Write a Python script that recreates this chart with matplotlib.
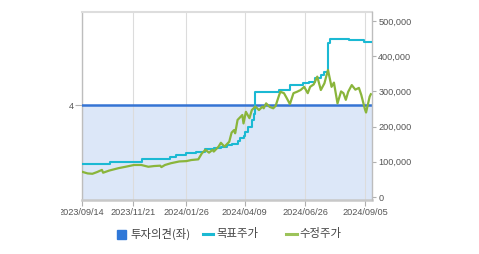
import matplotlib
matplotlib.use("Agg")
import matplotlib.pyplot as plt
import numpy as np
import pandas as pd
from matplotlib.patches import Rectangle
from matplotlib.lines import Line2D
from matplotlib.transforms import Bbox

# ---------------- data ----------------
holidays = ["2023-09-28", "2023-09-29", "2023-10-02", "2023-10-03", "2023-10-09",
            "2023-12-25", "2023-12-29", "2024-01-01", "2024-02-09", "2024-02-12",
            "2024-03-01", "2024-04-10", "2024-05-01", "2024-05-06", "2024-05-15",
            "2024-06-06", "2024-08-15"]
start_date = "2023-09-14"
end_date = "2024-09-13"

tick_dates = ["2023-09-14", "2023-11-21", "2024-01-26", "2024-04-09", "2024-06-26", "2024-09-05"]
tick_labels = ["2023/09/14", "2023/11/21", "2024/01/26", "2024/04/09", "2024/06/26", "2024/09/05"]

opinion_dates = ["2023-09-14", "2024-09-13"]
opinion_values = [4, 4]

target_dates = ["2023-09-14", "2023-10-25", "2023-12-01", "2024-01-08", "2024-01-15",
                "2024-01-26", "2024-02-07", "2024-02-21", "2024-03-04", "2024-03-12",
                "2024-03-19", "2024-03-25", "2024-04-01", "2024-04-03", "2024-04-08",
                "2024-04-09", "2024-04-15", "2024-04-18", "2024-04-22", "2024-04-23",
                "2024-05-24", "2024-06-07", "2024-06-24", "2024-07-01", "2024-07-08",
                "2024-07-15", "2024-07-18", "2024-07-23", "2024-07-25", "2024-08-19",
                "2024-09-04", "2024-09-13"]
target_values = [94000, 100000, 108000, 113000, 119000,
                 124000, 129000, 136000, 140000, 143000,
                 148000, 152000, 160000, 167000, 172000,
                 185000, 200000, 219000, 235000, 297000,
                 305000, 318000, 323000, 328000, 337000,
                 347000, 356000, 437000, 449000, 447000,
                 440000, 440000]

price_dates = ["2023-09-14", "2023-09-21", "2023-09-27", "2023-10-10", "2023-10-16",
               "2023-10-17", "2023-10-24", "2023-11-03", "2023-11-13", "2023-11-22",
               "2023-11-30", "2023-12-08", "2023-12-15", "2023-12-22", "2023-12-26",
               "2024-01-02", "2024-01-09", "2024-01-18", "2024-01-26", "2024-02-01",
               "2024-02-13", "2024-02-16", "2024-02-21", "2024-02-26", "2024-02-29",
               "2024-03-04", "2024-03-08", "2024-03-12", "2024-03-15", "2024-03-21",
               "2024-03-25", "2024-03-27", "2024-03-28", "2024-04-01", "2024-04-05",
               "2024-04-08", "2024-04-11", "2024-04-16", "2024-04-18", "2024-04-23",
               "2024-04-26", "2024-05-02", "2024-05-03", "2024-05-08", "2024-05-13",
               "2024-05-17", "2024-05-21", "2024-05-24", "2024-05-27", "2024-05-30",
               "2024-06-03", "2024-06-07", "2024-06-12", "2024-06-17", "2024-06-20",
               "2024-06-25", "2024-06-28", "2024-07-02", "2024-07-05", "2024-07-10",
               "2024-07-15", "2024-07-18", "2024-07-23", "2024-07-26", "2024-07-30",
               "2024-08-02", "2024-08-07", "2024-08-09", "2024-08-13", "2024-08-16",
               "2024-08-21", "2024-08-26", "2024-08-29", "2024-09-02", "2024-09-05",
               "2024-09-06", "2024-09-10", "2024-09-11", "2024-09-12"]
price_values = [72000, 67000, 66000, 71000, 77000,
                69000, 75000, 82000, 86000, 91000,
                91000, 86000, 88000, 89000, 85000,
                91000, 96000, 101000, 102000, 105000,
                107000, 124000, 134000, 126000, 134000,
                129000, 143000, 154000, 143000, 157000,
                183000, 190000, 181000, 219000, 233000,
                209000, 242000, 224000, 247000, 257000,
                247000, 257000, 252000, 266000, 256000,
                252000, 259000, 290000, 299000, 295000,
                283000, 264000, 295000, 299000, 304000,
                313000, 295000, 313000, 320000, 342000,
                304000, 323000, 361000, 313000, 325000,
                266000, 300000, 295000, 276000, 299000,
                318000, 305000, 310000, 290000, 250000,
                240000, 270000, 285000, 292000]

# ---------------- trading calendar (x axis) ----------------
cal = pd.bdate_range(start_date, end_date)
cal = cal[~cal.isin(pd.to_datetime(holidays))]

def to_idx(dates):
    return cal.searchsorted(pd.to_datetime(dates))

# ---------------- figure ----------------
plt.rcParams['font.family'] = ['Noto Sans CJK KR', 'DejaVu Sans']
W, H = 479, 254
fig = plt.figure(figsize=(W / 100, H / 100), dpi=100)
ax = fig.add_axes([81.7 / W, 1 - 200 / H, (372 - 81.7) / W, 188 / H])
ax2 = ax.twinx()

tick_font = dict(family='Liberation Sans', size=6.6, color='#555555')

# opinion (left axis)
oi = to_idx(opinion_dates)
ax.fill_between(oi, 0, opinion_values, step='post', color='#dce7f8', zorder=0.5, lw=0)
ax.plot(oi, opinion_values, drawstyle='steps-post', color='#3574d4', lw=1.8, zorder=3)
ax.set_ylim(0, 7.92)
ax.set_yticks([4])
ax.set_yticklabels(['4'], fontdict=tick_font)
ax.set_xlim(0, len(cal) - 1)

ax.set_xticks(to_idx(tick_dates))
ax.set_xticklabels(tick_labels, fontdict=tick_font)
ax.grid(axis='x', color='#dcdcdc', lw=0.8)
ax.tick_params(axis='x', length=4, color='#b0b0b0', pad=2)
ax.tick_params(axis='y', length=5, color='#b0b0b0', pad=1)

# prices (right axis)
ti = to_idx(target_dates)
pi = to_idx(price_dates)
ax2.plot(ti, target_values, drawstyle='steps-post', color='#1bb9d3', lw=1.5, zorder=4)
ax2.plot(pi, price_values, color='#8ab53b', lw=1.6, zorder=5)
ax2.set_ylim(-8500, 525600)
ax2.set_yticks([0, 100000, 200000, 300000, 400000, 500000])
ax2.set_yticklabels(['0', '100,000', '200,000', '300,000', '400,000', '500,000'], fontdict=tick_font)
ax2.tick_params(axis='y', length=3, color='#b0b0b0', pad=1.5)

ax.spines['left'].set_color('#bdbdbd')
ax.spines['left'].set_linewidth(1.0)
ax.spines['right'].set_visible(False)
ax.spines['bottom'].set_color('#c8c8c8')
ax.spines['bottom'].set_linewidth(1.8)
ax.spines['top'].set_color('#dddddd')
ax.spines['top'].set_linewidth(1.5)
ax2.spines['left'].set_visible(False)
ax2.spines['bottom'].set_visible(False)
ax2.spines['top'].set_visible(False)
ax2.spines['right'].set_color('#bdbdbd')
ax2.spines['right'].set_linewidth(1.0)

# clip first x tick label like the reference
for lbl in ax.get_xticklabels():
    lbl.set_clip_box(Bbox([[61, 0], [W, H]]))
    lbl.set_clip_on(True)

# ---------------- legend ----------------
def fx(px):
    return px / W

def fy(py):
    return 1 - py / H

leg_font = dict(size=8.2, color='#444444', va='center', ha='left')
ly = 234
fig.add_artist(Rectangle((fx(117), fy(239)), 9 / W, 9 / H, color='#2f78d8', transform=fig.transFigure))
fig.text(fx(130), fy(ly), '투자의견(좌)', **leg_font)
fig.add_artist(Line2D([fx(203), fx(213)], [fy(ly), fy(ly)], color='#1bb9d3', lw=2.2, transform=fig.transFigure))
fig.text(fx(216), fy(ly), '목표주가', **leg_font)
fig.add_artist(Line2D([fx(286), fx(297)], [fy(ly), fy(ly)], color='#9cc35a', lw=2.2, transform=fig.transFigure))
fig.text(fx(299), fy(ly), '수정주가', **leg_font)

fig.savefig('out.png', dpi=100)
